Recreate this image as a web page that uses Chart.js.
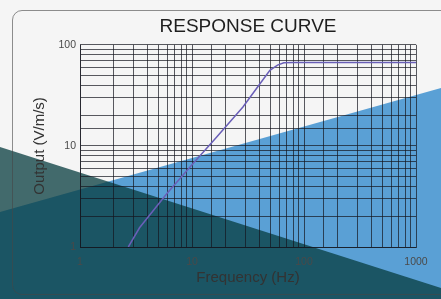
<!DOCTYPE html>
<html>
<head>
<meta charset="utf-8">
<script src="https://cdn.jsdelivr.net/npm/chart.js@4"></script>
<style>
  html, body { margin: 0; padding: 0; background: #f4f4f4; }
  #wrap { position: relative; width: 441px; height: 299px; overflow: hidden; background: #f5f5f5; }
  #box { position: absolute; left: 0; top: 0; width: 441px; height: 299px; }
  #panel {
    position: absolute; left: 12px; top: 10px; width: 470px; height: 283px;
    border: 1.5px solid rgba(70, 70, 70, 0.6); border-radius: 10px; pointer-events: none;
  }
</style>
</head>
<body>
<div id="wrap">
  <div id="box"><canvas id="responseChart"></canvas></div>
  <div id="panel"></div>
</div>
<script>
// response curve
const freqHz    = [2.7, 3.4, 6, 10, 16.7, 28.5, 40, 49.6, 58, 66, 80, 1000];
const outputVms = [1.0, 1.55, 3.4, 6.5, 12.3, 24.3, 40.5, 56, 63, 66.5, 67, 67];
const xTickLabels = [1, 10, 100, 1000];
const yTickLabels = [1, 10, 100];

const colors = {
    text: '#333333',
    tick: '#4a4a4a',
    grid: 'rgba(20, 22, 30, 0.7)',
    curve: '#6a5fb8',
    blue: 'rgba(24, 124, 200, 0.7)',
    dark: 'rgba(5, 59, 61, 0.75)'
};

Chart.defaults.font.family = "'Liberation Sans', Arial, sans-serif";

// decorative triangles behind the grid
const backdropTriangles = {
    id: 'backdropTriangles',
    beforeDraw(chart) {
        const { ctx, width: w, height: h } = chart;
        ctx.save();
        ctx.fillStyle = colors.blue;
        ctx.beginPath();
        ctx.moveTo(0, h * 0.709);
        ctx.lineTo(w, h * 0.294);
        ctx.lineTo(w, h);
        ctx.lineTo(0, h);
        ctx.closePath();
        ctx.fill();

        ctx.fillStyle = colors.dark;
        ctx.beginPath();
        ctx.moveTo(0, h * 0.492);
        ctx.lineTo(w, h * 0.963);
        ctx.lineTo(w, h);
        ctx.lineTo(0, h);
        ctx.closePath();
        ctx.fill();
        ctx.restore();
    }
};

const isDecade = (v) => Math.abs(Math.log10(v) - Math.round(Math.log10(v))) < 1e-6;

const ctxResponse = document.getElementById('responseChart');
new Chart(ctxResponse, {
    type: 'scatter',
    data: {
        datasets: [{
            data: freqHz.map((f, i) => ({ x: f, y: outputVms[i] })),
            showLine: true,
            borderColor: colors.curve,
            borderWidth: 1.5,
            pointRadius: 0,
            tension: 0
        }]
    },
    options: {
        responsive: true,
        maintainAspectRatio: false,
        animation: false,
        layout: { padding: { left: 25, right: 25, top: 6, bottom: 8 } },
        plugins: {
            legend: { display: false },
            tooltip: { enabled: false },
            title: {
                display: true,
                text: 'RESPONSE CURVE',
                fullSize: false,
                color: '#1e1e1e',
                font: { size: 19, weight: 'normal' },
                padding: { top: 9, bottom: 7 }
            }
        },
        scales: {
            x: {
                type: 'logarithmic',
                min: 1,
                max: 1000,
                afterFit: (scale) => { scale.height = 44; },
                grid: { color: colors.grid, drawTicks: false },
                border: { color: colors.grid },
                ticks: {
                    autoSkip: false,
                    maxRotation: 0,
                    padding: 9,
                    color: colors.tick,
                    font: { size: 10.5 },
                    callback: (v) => (isDecade(v) && xTickLabels.includes(Math.round(v))) ? String(Math.round(v)) : ''
                },
                title: {
                    display: true,
                    text: 'Frequency (Hz)',
                    color: colors.text,
                    font: { size: 15 },
                    padding: { top: 0, bottom: 4 }
                }
            },
            y: {
                type: 'logarithmic',
                min: 1,
                max: 100,
                afterFit: (scale) => { scale.width = 55; },
                grid: { color: colors.grid, drawTicks: false },
                border: { color: colors.grid },
                ticks: {
                    autoSkip: false,
                    padding: 4,
                    color: colors.tick,
                    font: { size: 10.5 },
                    callback: (v) => (isDecade(v) && yTickLabels.includes(Math.round(v))) ? String(Math.round(v)) : ''
                },
                title: {
                    display: true,
                    text: 'Output (V/m/s)',
                    color: colors.text,
                    font: { size: 15 },
                    padding: { top: 6, bottom: 0 }
                }
            }
        }
    },
    plugins: [backdropTriangles]
});
</script>
</body>
</html>
